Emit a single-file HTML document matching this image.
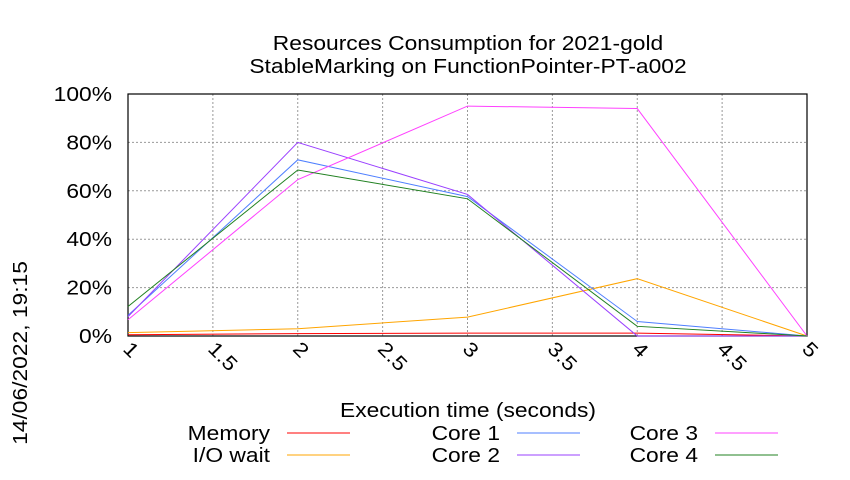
<!DOCTYPE html>
<html><head><meta charset="utf-8"><style>
body{margin:0;background:#fff}
svg text{font-family:"Liberation Sans",sans-serif;fill:#000}
</style></head><body>
<svg width="850" height="475" viewBox="0 0 850 475">
<text x="468" y="50" font-size="19" text-anchor="middle">Resources Consumption for 2021-gold</text>
<text x="468" y="73" font-size="19" text-anchor="middle">StableMarking on FunctionPointer-PT-a002</text>
<text transform="translate(27,353) rotate(-90)" font-size="19" text-anchor="middle">14/06/2022, 19:15</text>
<g id="grid"></g><g id="axes"></g><g id="series"></g>
<text x="468" y="417" font-size="19" text-anchor="middle">Execution time (seconds)</text>
<g id="legend"></g>
</svg>
<script>
const xValues=[1,2,3,4,5];
const xTicks=[1,1.5,2,2.5,3,3.5,4,4.5,5];
const xTickLabels=["1","1.5","2","2.5","3","3.5","4","4.5","5"];
const yTicks=[0,20,40,60,80,100];
const yTickLabels=["0%","20%","40%","60%","80%","100%"];
const seriesNames=["Memory","I/O wait","Core 1","Core 2","Core 3","Core 4"];
const seriesColors=["#ff0000","#ffa500","#4f7fff","#9a40ff","#ff40ff","#208020"];
const memory=[0.5,1,1.2,1.2,0];
const ioWait=[1.4,3,7.8,23.7,0];
const core1=[8.5,72.8,57.6,6,0];
const core2=[8,80,58.5,0,0];
const core3=[6.7,64.6,95,94,0];
const core4=[12.2,68.6,56.7,4,0];
const allSeries=[memory,ioWait,core1,core2,core3,core4];
const L=128,R=807,T=94,B=336,NS="http://www.w3.org/2000/svg";
const sx=v=>L+(v-1)/4*(R-L), sy=v=>B-v/100*(B-T);
function mk(tag,attrs,parent){const e=document.createElementNS(NS,tag);for(const k in attrs)e.setAttribute(k,attrs[k]);parent.appendChild(e);return e;}
const grid=document.getElementById('grid'),axes=document.getElementById('axes'),ser=document.getElementById('series'),leg=document.getElementById('legend');
xTicks.forEach((t,i)=>{
 const g=mk('line',{x1:sx(t),x2:sx(t),y1:T,y2:B,stroke:'#999','stroke-dasharray':'2,2'},grid);
 
 
 const tx=mk('text',{transform:`translate(${sx(t)-6},${B+14}) rotate(45)`,'font-size':19},axes);
 tx.textContent=xTickLabels[i];
 
 
});
yTicks.forEach((t,i)=>{
 const g=mk('line',{x1:L,x2:R,y1:sy(t),y2:sy(t),stroke:'#999','stroke-dasharray':'2,2'},grid);
 
 
 const tx=mk('text',{x:L-16,y:sy(t)+7,'font-size':19,'text-anchor':'end'},axes);
 tx.textContent=yTickLabels[i];
 
 
});
const frame=mk('rect',{x:L,y:T,width:R-L,height:B-T,fill:'none',stroke:'#000','stroke-width':1.2},axes);


allSeries.forEach((s,i)=>{
 const p=mk('polyline',{points:s.map((v,j)=>sx(xValues[j])+','+sy(v)).join(' '),fill:'none',stroke:seriesColors[i],'stroke-width':1},ser);
 
 
});
const legX=[270,500,698],legY=[440,462];
seriesNames.forEach((n,i)=>{
 const c=Math.floor(i/2),r=i%2;
 const t=mk('text',{x:legX[c],y:legY[r],'font-size':19,'text-anchor':'end'},leg);
 t.textContent=n;
 
 
 const l=mk('line',{x1:legX[c]+17,x2:legX[c]+80,y1:legY[r]-7,y2:legY[r]-7,stroke:seriesColors[i]},leg);
 
 
});
document.querySelectorAll('svg text').forEach(t=>{
 const w=t.getComputedTextLength();
 t.setAttribute('font-size','20');
 t.setAttribute('textLength',(w*1.2).toFixed(1));
 t.setAttribute('lengthAdjust','spacingAndGlyphs');
});
</script>
</body></html>
